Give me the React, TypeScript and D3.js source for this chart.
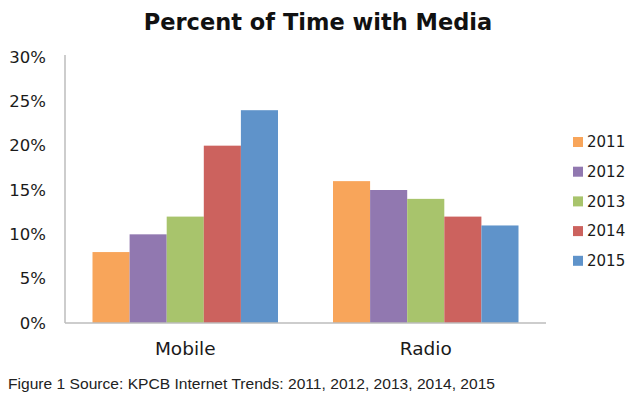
import * as d3 from 'd3';
import React from 'react';

const categories = ['Mobile', 'Radio'];
const years = ['2011', '2012', '2013', '2014', '2015'];
// percent of time, one array per year: [Mobile, Radio]
const values: Record<string, number[]> = {
  '2011': [8, 16],
  '2012': [10, 15],
  '2013': [12, 14],
  '2014': [20, 12],
  '2015': [24, 11],
};
const yTicks = [0, 5, 10, 15, 20, 25, 30];
const colors = ['#F8A55A', '#9178B0', '#A8C46C', '#CC625E', '#5F93CA'];

const W = 640;
const H = 398;
const left = 65;
const right = 546;
const bottom = 323;
const top = 57;
const labelFont = '"DejaVu Sans", sans-serif';

export default function App() {
  const x0 = d3.scaleBand<string>().domain(categories).range([left, right]);
  const gap = 55;
  const x1 = d3
    .scaleBand<string>()
    .domain(years)
    .range([gap / 2, x0.bandwidth() - gap / 2]);
  const y = d3.scaleLinear().domain([0, 30]).range([bottom, top]);
  const color = d3.scaleOrdinal<string, string>().domain(years).range(colors);

  return (
    <svg width={W} height={H} style={{ position: 'absolute', left: 0, top: 0, background: '#fff' }}>
      <text x={318} y={30} textAnchor="middle" fontFamily={labelFont} fontWeight="bold" fontSize={22.5} fill="#111">
        Percent of Time with Media
      </text>

      {/* bars */}
      {categories.map((c, ci) =>
        years.map((yr) => (
          <rect
            key={c + yr}
            x={x0(c)! + x1(yr)!}
            y={y(values[yr][ci])}
            width={x1.bandwidth()}
            height={bottom - y(values[yr][ci])}
            fill={color(yr)}
          />
        ))
      )}

      {/* axes */}
      <line x1={left} x2={left} y1={top - 2} y2={bottom} stroke="#bdbdbd" strokeWidth={1.5} />
      <line x1={left} x2={right} y1={bottom} y2={bottom} stroke="#bdbdbd" strokeWidth={1.5} />

      {yTicks.map((t) => (
        <text key={t} x={46} y={y(t)} dy="0.35em" textAnchor="end" fontFamily={labelFont} fontSize={16.5} fill="#1a1a1a">
          {t}%
        </text>
      ))}

      {categories.map((c) => (
        <text
          key={c}
          x={x0(c)! + x0.bandwidth() / 2}
          y={355}
          textAnchor="middle"
          fontFamily={labelFont}
          fontSize={18.5}
          fill="#1a1a1a"
        >
          {c}
        </text>
      ))}

      {/* legend */}
      {years.map((yr, i) => (
        <g key={yr} transform={`translate(573, ${142 + i * 29.7})`}>
          <rect x={0} y={-5} width={10} height={10} fill={color(yr)} />
          <text x={14} y={0} dy="0.35em" fontFamily={labelFont} fontSize={15} fill="#1a1a1a">
            {yr}
          </text>
        </g>
      ))}

      <text x={8} y={389} fontFamily='"Liberation Sans", Arial, sans-serif' fontSize={15.5} fill="#222" textLength={487} lengthAdjust="spacingAndGlyphs">
        Figure 1 Source: KPCB Internet Trends: 2011, 2012, 2013, 2014, 2015
      </text>
    </svg>
  );
}
